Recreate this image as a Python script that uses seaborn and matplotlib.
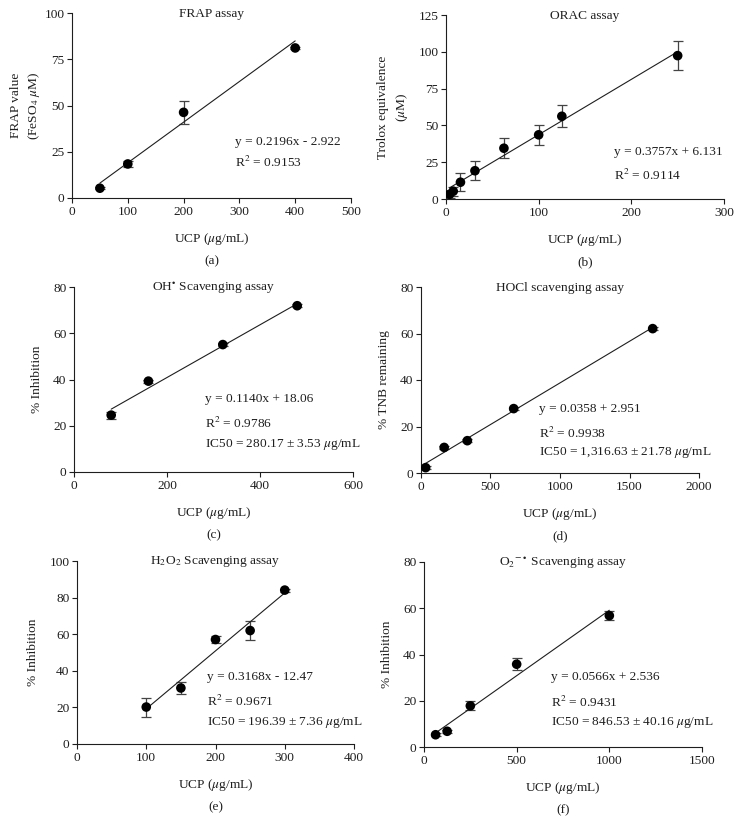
import numpy as np
import pandas as pd
import matplotlib.pyplot as plt
import seaborn as sns

# (a) FRAP
frap_x = [50, 100, 200, 400]
frap_y = [5.3, 18.4, 46.3, 81.1]
frap_err = [0.5, 1.5, 6.3, 0.6]

# (b) ORAC
orac_x = [3.9, 7.8, 15.6, 31.25, 62.5, 100, 125, 250]
orac_y = [3.2, 5.3, 11.4, 19.2, 34.5, 43.6, 56.2, 97.4]
orac_err = [2.5, 3.0, 6.0, 6.6, 6.7, 6.8, 7.6, 9.6]

# (c) OH radical
oh_x = [80, 160, 320, 480]
oh_y = [24.6, 39.3, 55.1, 71.9]
oh_err = [1.5, 0.6, 0.6, 0.6]

# (d) HOCl
hocl_x = [33.3, 166.7, 333.3, 666.7, 1666.7]
hocl_y = [2.3, 11.0, 13.9, 27.7, 62.1]
hocl_err = [0.6, 0.6, 0.6, 0.6, 0.6]

# (e) H2O2
h2o2_x = [100, 150, 200, 250, 300]
h2o2_y = [20.2, 30.6, 57.1, 62.0, 84.1]
h2o2_err = [5.2, 3.2, 1.8, 5.0, 0.8]

# (f) superoxide
o2_x = [62.5, 125, 250, 500, 1000]
o2_y = [5.3, 6.8, 17.8, 35.8, 56.8]
o2_err = [0.6, 0.6, 2.0, 2.5, 1.8]

slopes = [0.2196, 0.3757, 0.1140, 0.0358, 0.3168, 0.0566]
intercepts = [-2.922, 6.131, 18.06, 2.951, -12.47, 2.536]

titles = ["FRAP assay", "ORAC assay", r"OH$^{\bullet}$ Scavenging assay",
          "HOCl scavenging assay", r"H$_2$O$_2$ Scavenging assay",
          r"O$_2$$^{-\bullet}$ Scavenging assay"]
ylabels = ["FRAP value\n(FeSO$_4$ $\\mu$M)", "Trolox equivalence\n($\\mu$M)",
           "% Inhibition", "% TNB remaining", "% Inhibition", "% Inhibition"]
notes = [
    ["y = 0.2196x - 2.922", "R$^2$ = 0.9153"],
    ["y = 0.3757x + 6.131", "R$^2$ = 0.9114"],
    ["y = 0.1140x + 18.06", "R$^2$ = 0.9786", "IC50 = 280.17 ± 3.53 $\\mu$g/mL"],
    ["y = 0.0358 + 2.951", "R$^2$ = 0.9938", "IC50 = 1,316.63 ± 21.78 $\\mu$g/mL"],
    ["y = 0.3168x - 12.47", "R$^2$ = 0.9671", "IC50 = 196.39 ± 7.36 $\\mu$g/mL"],
    ["y = 0.0566x + 2.536", "R$^2$ = 0.9431", "IC50 = 846.53 ± 40.16 $\\mu$g/mL"],
]
letters = ["(a)", "(b)", "(c)", "(d)", "(e)", "(f)"]

panels = [
    (frap_x, frap_y, frap_err, 500, 100, 100, 25),
    (orac_x, orac_y, orac_err, 300, 100, 125, 25),
    (oh_x, oh_y, oh_err, 600, 200, 80, 20),
    (hocl_x, hocl_y, hocl_err, 2000, 500, 80, 20),
    (h2o2_x, h2o2_y, h2o2_err, 400, 100, 100, 20),
    (o2_x, o2_y, o2_err, 1500, 500, 80, 20),
]

# axes boxes in pixels: left, top, right, bottom
boxes = [(72, 13, 351, 198), (446, 15, 724, 199),
         (74, 287, 353, 472), (421, 287, 699, 473),
         (77, 561, 354, 744), (424, 562, 702, 747)]
note_pos = [(0.584, [0.303, 0.19]), (0.604, [0.255, 0.13]),
            (0.47, [0.395, 0.26, 0.146]), (0.424, [0.344, 0.215, 0.108]),
            (0.469, [0.366, 0.23, 0.115]), (0.457, [0.378, 0.243, 0.13])]
ylab_x = [-0.106, -0.13, -0.111, -0.111, -0.137, -0.111]

sns.set_theme(style="ticks")
plt.rcParams["font.family"] = ["Liberation Serif", "DejaVu Serif"]
plt.rcParams["mathtext.fontset"] = "stix"

W, H = 742, 833
fig = plt.figure(figsize=(W / 100, H / 100), dpi=100)
ink = "#1e1e1e"
fs = 9.6

for i, (xs, ys, errs, xmax, xstep, ymax, ystep) in enumerate(panels):
    l, t, r, b = boxes[i]
    ax = fig.add_axes([l / W, 1 - b / H, (r - l) / W, (b - t) / H])
    df = pd.DataFrame({"x": xs, "y": ys, "err": errs})

    ax.errorbar(df["x"], df["y"], yerr=df["err"], fmt="none", ecolor="#444444",
                elinewidth=0.9, capsize=3.5, capthick=0.9, zorder=2)
    x0, x1 = min(xs), max(xs)
    fit = pd.DataFrame({"x": [x0, x1],
                        "y": [slopes[i] * x0 + intercepts[i], slopes[i] * x1 + intercepts[i]]})
    sns.lineplot(data=fit, x="x", y="y", color=ink, linewidth=0.8, ax=ax, zorder=3)
    sns.scatterplot(data=df, x="x", y="y", color="black", s=48, edgecolor="none",
                    ax=ax, zorder=4)

    ax.set_xlim(0, xmax)
    ax.set_ylim(0, ymax)
    ax.set_xticks(np.arange(0, xmax + 1, xstep))
    ax.set_yticks(np.arange(0, ymax + 1, ystep))
    sns.despine(ax=ax)
    for s in ["left", "bottom"]:
        ax.spines[s].set_color(ink)
        ax.spines[s].set_linewidth(0.8)
    ax.tick_params(direction="out", length=3.5, width=0.8, color=ink,
                   labelsize=fs, labelcolor=ink, pad=2)

    ax.set_xlabel("UCP ($\\mu$g/mL)", fontsize=fs, color=ink)
    ax.xaxis.set_label_coords(0.5, -33 / (b - t))
    ax.set_ylabel(ylabels[i], fontsize=fs, color=ink, linespacing=1.4)
    ax.yaxis.set_label_coords(ylab_x[i], 0.5)

    ax.text(0.5, 0.995, titles[i], transform=ax.transAxes, ha="center",
            va="center", fontsize=fs, color=ink)
    nx, nys = note_pos[i]
    for txt, ny in zip(notes[i], nys):
        ax.text(nx, ny, txt, transform=ax.transAxes, ha="left", va="center",
                fontsize=fs, color=ink)
    ax.annotate(letters[i], xy=(0.5, 0), xycoords="axes fraction",
                xytext=(0, -63), textcoords="offset pixels", ha="center",
                va="center", fontsize=fs, color=ink)

fig.savefig("out.png", dpi=100)
